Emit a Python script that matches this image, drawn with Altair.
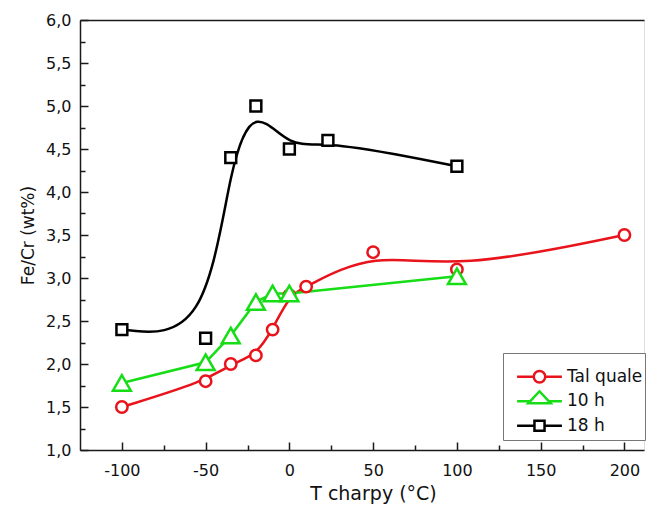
import altair as alt
import pandas as pd

# ---------------- data ----------------
series_names = ["Tal quale", "10 h", "18 h"]
series_colors = ["#e8131b", "#17dd17", "#000000"]

temp_tal_quale = [-100, -50, -35, -20, -10, 0, 10, 50, 100, 200]
fecr_tal_quale = [1.5, 1.8, 2.0, 2.1, 2.4, 2.8, 2.9, 3.3, 3.1, 3.5]

temp_10h = [-100, -50, -35, -20, -10, 0, 100]
fecr_10h = [1.78, 2.02, 2.33, 2.72, 2.82, 2.82, 3.02]

temp_18h = [-100, -50, -35, -20, 0, 23, 100]
fecr_18h = [2.4, 2.3, 4.4, 5.0, 4.5, 4.6, 4.3]

x_major_ticks = [-100, -50, 0, 50, 100, 150, 200]
x_minor_ticks = [-75, -25, 25, 75, 125, 175]
y_major_ticks = [1.0, 1.5, 2.0, 2.5, 3.0, 3.5, 4.0, 4.5, 5.0, 5.5, 6.0]
y_minor_ticks = [1.25, 1.75, 2.25, 2.75, 3.25, 3.75, 4.25, 4.75, 5.25, 5.75]
x_domain = [-125, 211.7]
y_domain = [1.0, 6.0]

rows = []
for name, ts, vs in [("Tal quale", temp_tal_quale, fecr_tal_quale),
                     ("10 h", temp_10h, fecr_10h),
                     ("18 h", temp_18h, fecr_18h)]:
    for t, v in zip(ts, vs):
        rows.append({"T": t, "v": v, "series": name})
df = pd.DataFrame(rows)

# ---------------- styling ----------------
FONT = "DejaVu Sans"
AX = "#1a1a1a"
xs = alt.Scale(domain=x_domain, nice=False, zero=False)
ys = alt.Scale(domain=y_domain, nice=False, zero=False)
color_scale = alt.Scale(domain=series_names, range=series_colors)

# legend symbols: line + marker in one path (unit = 7 px)
CIRCLE = ("M0.82,0C0.82,0.453,0.453,0.82,0,0.82C-0.453,0.82,-0.82,0.453,-0.82,0"
          "C-0.82,-0.453,-0.453,-0.82,0,-0.82C0.453,-0.82,0.82,-0.453,0.82,0Z")
legend_paths = [
    "M-3.2,0L-0.82,0M0.82,0L3.2,0" + CIRCLE,
    "M-3.2,0L-1.34,0M1.34,0L3.2,0M0,-1.43L1.6,0.29L-1.6,0.29Z",
    "M-3.2,0L-0.72,0M0.72,0L3.2,0M-0.72,-0.72L0.72,-0.72L0.72,0.72L-0.72,0.72Z",
]

x_axis_main = alt.Axis(orient="bottom", values=x_major_ticks, ticks=False, domain=True,
                       domainColor=AX, domainWidth=1.5, grid=False,
                       labelExpr="'' + datum.value", labelFont=FONT, labelFontSize=16,
                       labelColor="#111", labelPadding=12, labelFlush=False,
                       title="T charpy (°C)", titleFont=FONT, titleFontSize=19,
                       titleFontWeight="normal", titleColor="#111", titlePadding=6.5,
                       titleX=293, titleAlign="center", titleAnchor="middle")
x_axis_major = alt.Axis(orient="bottom", values=x_major_ticks, offset=-8, tickSize=8,
                        tickColor=AX, tickWidth=1.5, labels=False, domain=False,
                        grid=False, title=None)
x_axis_minor = alt.Axis(orient="bottom", values=x_minor_ticks, offset=-5, tickSize=5,
                        tickColor=AX, tickWidth=1.5, labels=False, domain=False,
                        grid=False, title=None)
x_axis_top = alt.Axis(orient="top", ticks=False, labels=False, domain=True,
                      domainColor=AX, domainWidth=1.5, grid=False, title=None)

y_axis_main = alt.Axis(orient="left", values=y_major_ticks, ticks=False, domain=True,
                       domainColor=AX, domainWidth=1.5, grid=False,
                       labelExpr="replace(format(datum.value, '.1f'), '.', ',')",
                       labelFont=FONT, labelFontSize=16, labelColor="#111",
                       labelPadding=9, labelFlush=False,
                       title="Fe/Cr (wt%)", titleFont=FONT, titleFontSize=17,
                       titleFontWeight="normal", titleColor="#111", titlePadding=8)
y_axis_major = alt.Axis(orient="left", values=y_major_ticks, offset=-8, tickSize=8,
                        tickColor=AX, tickWidth=1.5, labels=False, domain=False,
                        grid=False, title=None)
y_axis_minor = alt.Axis(orient="left", values=y_minor_ticks, offset=-5, tickSize=5,
                        tickColor=AX, tickWidth=1.5, labels=False, domain=False,
                        grid=False, title=None)

base = alt.Chart(df)

smooth_lines = base.transform_filter(
    alt.FieldOneOfPredicate(field="series", oneOf=["Tal quale", "18 h"])
).mark_line(interpolate="basis", strokeWidth=2.5).encode(
    x=alt.X("T:Q", scale=xs, axis=x_axis_main),
    y=alt.Y("v:Q", scale=ys, axis=y_axis_main),
    stroke=alt.Stroke("series:N", scale=color_scale, legend=None),
)

straight_line = base.transform_filter(
    alt.FieldEqualPredicate(field="series", equal="10 h")
).mark_line(strokeWidth=2.5).encode(
    x=alt.X("T:Q", scale=xs, axis=x_axis_major),
    y=alt.Y("v:Q", scale=ys, axis=y_axis_major),
    stroke=alt.Stroke("series:N", scale=color_scale, legend=None),
)

points = base.mark_point(filled=True, fill="white", strokeWidth=2.5, opacity=1).encode(
    x=alt.X("T:Q", scale=xs, axis=x_axis_minor),
    y=alt.Y("v:Q", scale=ys, axis=y_axis_minor),
    stroke=alt.Stroke("series:N", scale=color_scale, legend=None),
    shape=alt.Shape("series:N", scale=alt.Scale(domain=series_names,
                    range=["circle", "triangle-up", "square"]), legend=None),
    size=alt.Size("series:N", scale=alt.Scale(type="ordinal", domain=series_names,
                  range=[130, 320, 118]), legend=None),
)

legend_spec = dict(title=" ", orient="none", legendX=423, legendY=333,
                   direction="vertical", symbolSize=196, symbolStrokeWidth=2.5,
                   symbolFillColor="white", symbolOffset=26, labelOffset=19,
                   labelFont=FONT, labelFontSize=17, labelColor="#111",
                   padding=2, rowPadding=0.5, clipHeight=23.5,
                   strokeColor="#777", fillColor="white",
                   titleFontSize=8, titlePadding=2, cornerRadius=0)

legend_layer = base.transform_filter("datum.T > 10000").mark_point(
    filled=True, fill="white", strokeWidth=2.5, opacity=1
).encode(
    x=alt.X("T:Q", scale=xs, axis=x_axis_top),
    y=alt.Y("v:Q", scale=ys, axis=None),
    stroke=alt.Stroke("series:N", scale=alt.Scale(domain=series_names, range=series_colors),
                      legend=alt.Legend(**legend_spec)),
    shape=alt.Shape("series:N", scale=alt.Scale(domain=series_names, range=legend_paths),
                    legend=alt.Legend(**legend_spec)),
)

chart = alt.layer(smooth_lines, straight_line, points, legend_layer).resolve_axis(
    x="independent", y="independent"
).resolve_scale(
    shape="independent", stroke="independent", size="independent"
).properties(
    width=564, height=430,
    autosize=alt.AutoSizeParams(type="none"),
    padding={"left": 72, "top": 12, "right": 2, "bottom": 54},
).configure_view(stroke=None).configure(background="white")

chart.save("out.html", embed_options={"renderer": "svg", "actions": False})
